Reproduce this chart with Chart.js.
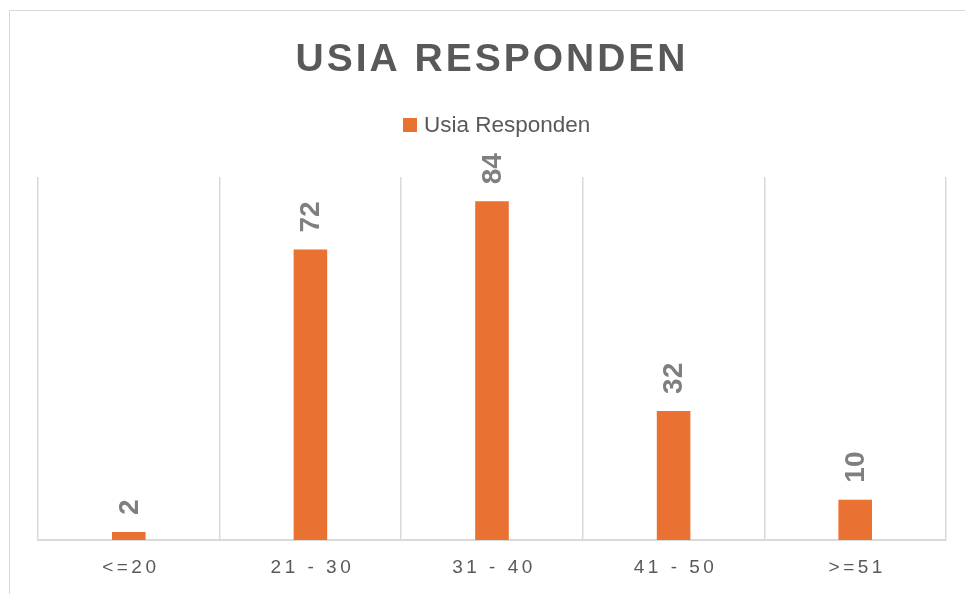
<!DOCTYPE html>
<html>
<head>
<meta charset="utf-8">
<script src="https://cdn.jsdelivr.net/npm/chart.js@4/dist/chart.umd.min.js"></script>
<style>
  html, body { margin: 0; padding: 0; background: #fff; overflow: hidden; }
  #frame { position: absolute; left: 9px; top: 10px; width: 1100px; height: 700px;
           border: 1.5px solid #d9d9d9; box-sizing: border-box; }
  #wrap { position: absolute; left: 0; top: 0; width: 965px; height: 594px; }
</style>
</head>
<body>
<div id="frame"></div>
<div id="wrap"><canvas id="chart1"></canvas></div>
<script>
let chart1;

// data
const categories = ['<=20', '21 - 30', '31 - 40', '41 - 50', '>=51'];
const usiaValues = [2, 72, 84, 32, 10];
const seriesName = 'Usia Responden';
const chartTitle = 'USIA RESPONDEN';

const barColor = '#E97132';
const textGray = '#595959';

// title, legend, x labels and data labels (canvas letterSpacing)
const textPlugin = {
  id: 'textPlugin',
  afterDraw(chart) {
    const ctx = chart.ctx;
    ctx.save();

    // title
    ctx.fillStyle = textGray;
    ctx.font = 'bold 39px "Liberation Sans", Arial, sans-serif';
    ctx.letterSpacing = '3px';
    ctx.textAlign = 'center';
    ctx.textBaseline = 'alphabetic';
    ctx.fillText(chartTitle, 492, 71);

    // legend
    ctx.letterSpacing = '0px';
    ctx.fillStyle = barColor;
    ctx.fillRect(403, 118, 14, 14);
    ctx.fillStyle = textGray;
    ctx.font = '22.5px "Liberation Sans", Arial, sans-serif';
    ctx.textAlign = 'left';
    ctx.fillText(seriesName, 424, 132);

    // x labels
    const xs = chart.scales.x;
    ctx.font = '19px "Liberation Sans", Arial, sans-serif';
    ctx.letterSpacing = '3.5px';
    ctx.textAlign = 'center';
    ctx.textBaseline = 'middle';
    categories.forEach((c, i) => {
      ctx.fillText(c, xs.getPixelForValue(i) + 2, 568);
    });

    // data labels, rotated
    ctx.letterSpacing = '0px';
    ctx.fillStyle = '#7F7F7F';
    ctx.font = 'bold 28px "Liberation Sans", Arial, sans-serif';
    ctx.textAlign = 'left';
    ctx.textBaseline = 'middle';
    const meta = chart.getDatasetMeta(0);
    meta.data.forEach((bar, i) => {
      ctx.save();
      ctx.translate(bar.x + 1, bar.y - 17);
      ctx.rotate(-Math.PI / 2);
      ctx.fillText(String(usiaValues[i]), 0, 0);
      ctx.restore();
    });

    ctx.restore();
  }
};

chart1 = new Chart(document.getElementById('chart1'), {
  type: 'bar',
  data: {
    labels: categories,
    datasets: [{
      label: seriesName,
      data: usiaValues,
      backgroundColor: barColor,
      borderWidth: 0,
      barPercentage: 1,
      categoryPercentage: 0.185
    }]
  },
  options: {
    responsive: true,
    maintainAspectRatio: false,
    animation: false,
    layout: { padding: { top: 177, left: 38, right: 19, bottom: 54 } },
    plugins: {
      legend: { display: false },
      title: { display: false },
      tooltip: { enabled: false }
    },
    scales: {
      x: {
        grid: { offset: true, color: '#d9d9d9', lineWidth: 1.5, drawTicks: false },
        border: { color: '#d9d9d9', width: 2 },
        ticks: { display: false }
      },
      y: {
        display: false,
        min: 0,
        max: 90
      }
    }
  },
  plugins: [textPlugin]
});
</script>
</body>
</html>
